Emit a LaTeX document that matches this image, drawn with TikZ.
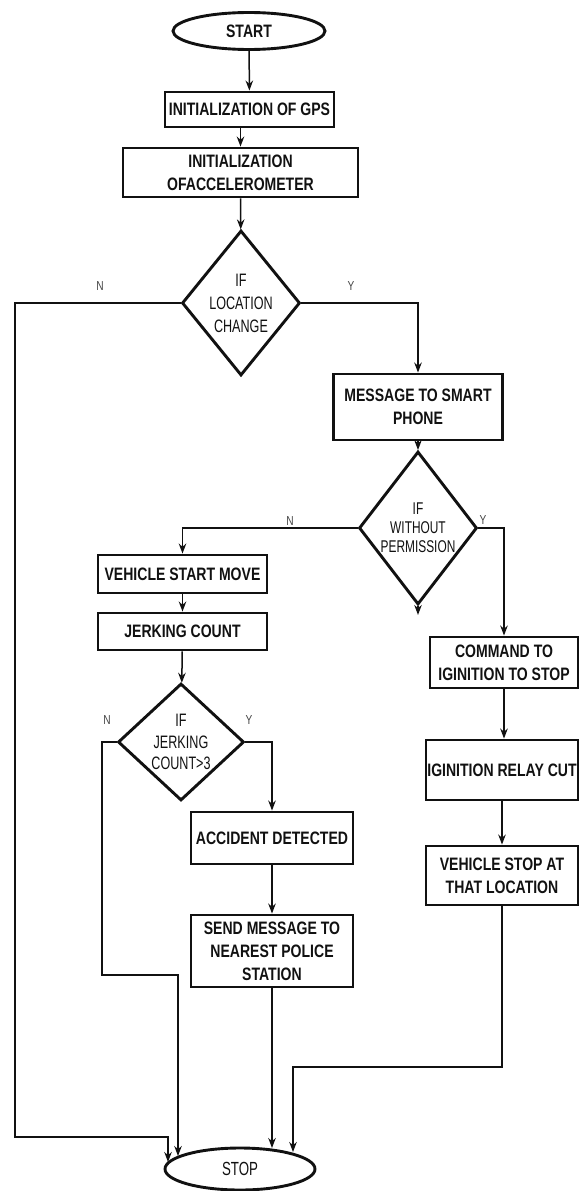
\documentclass[tikz,border=0pt]{standalone}
\usepackage{fontspec}
\setmainfont{Liberation Sans}[FakeStretch=0.78]
\newfontfamily\narrowfont{Liberation Sans}[FakeStretch=0.7]
\usetikzlibrary{arrows.meta,shapes.geometric}
\definecolor{inkblack}{HTML}{111111}
\definecolor{labelgray}{HTML}{444444}

\begin{document}
\begin{tikzpicture}[x=1pt,y=1pt,
  every node/.style={text=inkblack},
  proc/.style={draw=inkblack,line width=2.9pt,align=center,inner sep=1pt,
    font=\fontsize{18}{23}\selectfont\bfseries},
  term/.style={ellipse,draw=inkblack,line width=2.9pt,inner sep=0pt},
  decision/.style={diamond,draw=inkblack,line width=2.9pt,inner sep=0pt},
  dtext/.style={align=center,inner sep=0pt},
  yn/.style={font=\fontsize{13}{13}\selectfont,text=labelgray},
  flow/.style={draw=inkblack,line width=1.5pt},
  arr/.style={flow,-{Stealth[length=10pt,width=7.5pt]}}
]

% ---- canvas ----
\useasboundingbox (0,0) rectangle (579,-1191);

% ---- main column ----
\node[term,font=\fontsize{18}{18}\selectfont\bfseries,
  minimum width=152pt,minimum height=37pt] (start) at (249,-31) {START};
\node[proc,minimum width=169pt,minimum height=35pt] (gps) at (249.5,-109.5)
  {INITIALIZATION OF GPS};
\node[proc,minimum width=235pt,minimum height=49pt] (accel) at (240.5,-172.5)
  {INITIALIZATION\\OFACCELEROMETER};

\node[decision,minimum width=118pt,minimum height=145pt] (loc) at (241,-303) {};
\node[dtext,font=\narrowfont\fontsize{18}{23}\selectfont] (locT) at (loc)
  {IF\\LOCATION\\CHANGE};

% ---- right branch ----
\node[proc,minimum width=169pt,minimum height=66pt] (msg) at (418,-407)
  {MESSAGE TO SMART\\PHONE};
\node[decision,minimum width=118pt,minimum height=153pt] (perm) at (418,-528) {};
\node[dtext,font=\narrowfont\fontsize{17}{19}\selectfont] (permT) at (perm)
  {IF\\WITHOUT\\PERMISSION};

\node[proc,minimum width=148pt,minimum height=51pt] (cmd) at (504,-662.5)
  {COMMAND TO\\IGINITION TO STOP};
\node[proc,minimum width=152pt,minimum height=60pt] (relay) at (502,-770)
  {IGINITION RELAY CUT};
\node[proc,minimum width=152pt,minimum height=59pt] (vstop) at (502,-875.5)
  {VEHICLE STOP AT\\THAT LOCATION};

% ---- left branch ----
\node[proc,minimum width=169pt,minimum height=38pt] (veh) at (182.5,-574)
  {VEHICLE START MOVE};
\node[proc,minimum width=169pt,minimum height=37pt] (jerk) at (182.5,-631.5)
  {JERKING COUNT};
\node[decision,minimum width=126pt,minimum height=117pt] (jc) at (181,-742) {};
\node[dtext,font=\narrowfont\fontsize{18}{21.5}\selectfont] (jcT) at (jc)
  {IF\\JERKING\\COUNT>3};

\node[proc,minimum width=162pt,minimum height=52pt] (acc) at (272,-838)
  {ACCIDENT DETECTED};
\node[proc,minimum width=162pt,minimum height=72pt] (police) at (272,-951)
  {SEND MESSAGE TO\\NEAREST POLICE\\STATION};

% ---- end ----
\node[term,font=\narrowfont\fontsize{19}{19}\selectfont,
  minimum width=150pt,minimum height=42pt] (stop) at (240,-1169) {STOP};
\coordinate (inA) at (168,-1162);
\coordinate (inB) at (178,-1156);
\coordinate (inC) at (272,-1148);
\coordinate (inD) at (293,-1152);

% ---- connectors ----
\draw[arr] (start) -- (gps);
\draw[arr] (gps.south -| accel.north) -- (accel.north);
\draw[arr] (accel) -- (loc);
\draw[arr] (loc.west) -| (15,-1137) -| (inA);
\draw[arr] (loc.east) -| (msg.north);
\draw[arr] (msg) -- (perm);
\draw[arr] (perm.west) -| (veh.north);
\draw[arr] (perm.east) -| (cmd.north);
\draw[arr] (perm.south) -- ++(0,-9);
\draw[arr] (cmd.south) -- (cmd.south |- relay.north);
\draw[arr] (relay) -- (vstop);
\draw[arr] (vstop.south) -- (vstop.south |- 0,-1067) -| (inD);
\draw[arr] (veh) -- (jerk);
\draw[arr] (jerk) -- (jc);
\draw[arr] (jc.west) -| (102,-975) -| (inB);
\draw[arr] (jc.east) -| (acc.north);
\draw[arr] (acc) -- (police);
\draw[arr] (police) -- (inC);

% ---- Y / N labels ----
\node[yn] (locN) at (100,-286) {N};
\node[yn] (locY) at (351,-286) {Y};
\node[yn] (permN) at (290,-521) {N};
\node[yn] (permY) at (483,-520) {Y};
\node[yn] (jcN) at (107,-720) {N};
\node[yn] (jcY) at (249,-720) {Y};

\end{tikzpicture}
\end{document}
